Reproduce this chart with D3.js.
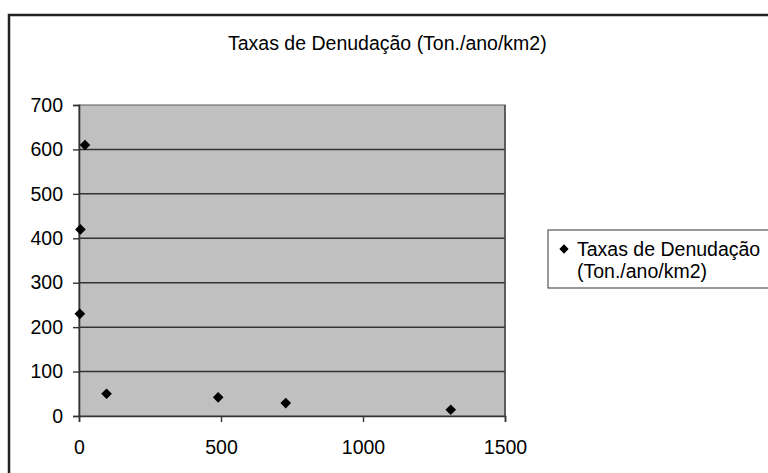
<!DOCTYPE html>
<html><head><meta charset="utf-8">
<script src="https://cdn.jsdelivr.net/npm/d3@7"></script>
<style>body{margin:0;background:#fff}svg{display:block}text{font-family:"Liberation Sans",Arial,sans-serif;fill:#000}</style>
</head><body><svg id="c" width="768" height="473"></svg>
<script>
const title = "Taxas de Denudação (Ton./ano/km2)";
const seriesName = ["Taxas de Denudação", "(Ton./ano/km2)"];
const xValues = [5, 21, 3, 97, 490, 728, 1309];
const yValues = [420, 610, 230, 50, 42, 29, 14];
const xTicks = [0, 500, 1000, 1500];
const yTicks = [0, 100, 200, 300, 400, 500, 600, 700];

const svg = d3.select("#c");
const L = 79, R = 505, T = 105, B = 416;
const x = d3.scaleLinear().domain([0, 1500]).range([L, R]);
const y = d3.scaleLinear().domain([0, 700]).range([B, T]);

// outer border (chart area, cropped on right/bottom)
svg.append("path").attr("d", "M9,480 L9,15 L780,15").attr("fill", "none").attr("stroke", "#222").attr("stroke-width", 2.5);

// title
svg.append("text").attr("x", 228).attr("y", 50).attr("font-size", 19.5).text(title);

// plot area
svg.append("rect").attr("x", L).attr("y", T).attr("width", R - L).attr("height", B - T).attr("fill", "#c0c0c0").attr("stroke", "#707070").attr("stroke-width", 1.2);

// gridlines
svg.append("g").selectAll("line").data(yTicks.filter(d => d > 0 && d < 700)).join("line")
  .attr("x1", L).attr("x2", R).attr("y1", d => y(d)).attr("y2", d => y(d))
  .attr("stroke", "#333").attr("stroke-width", 1.5);

// y axis
const ya = svg.append("g").attr("transform", `translate(${L},0)`)
  .call(d3.axisLeft(y).tickValues(yTicks).tickSize(6).tickPadding(10).tickFormat(d3.format("d")));
ya.select(".domain").attr("stroke", "#333").attr("stroke-width", 1.6);
ya.selectAll(".tick line").attr("stroke", "#333").attr("stroke-width", 1.4);
ya.selectAll("text").attr("font-size", 19.5).attr("font-family", "Liberation Sans, Arial, sans-serif").attr("fill", "#000");

// x axis
const xa = svg.append("g").attr("transform", `translate(0,${B})`)
  .call(d3.axisBottom(x).tickValues(xTicks).tickSize(6).tickPadding(18).tickFormat(d3.format("d")));
xa.select(".domain").attr("stroke", "#333").attr("stroke-width", 1.6);
xa.selectAll(".tick line").attr("stroke", "#333").attr("stroke-width", 1.4);
xa.selectAll("text").attr("font-size", 19.5).attr("font-family", "Liberation Sans, Arial, sans-serif").attr("fill", "#000");

// right border of plot
svg.append("line").attr("x1", R).attr("x2", R).attr("y1", T).attr("y2", B).attr("stroke", "#444").attr("stroke-width", 1.4);

// points
const diamond = d3.symbol().type(d3.symbolDiamond2).size(72);
const pts = xValues.map((v, i) => ({x: v, y: yValues[i]}));
svg.append("g").selectAll("path").data(pts).join("path")
  .attr("d", diamond).attr("transform", d => `translate(${x(d.x)},${y(d.y)})`).attr("fill", "#000");

// legend
svg.append("rect").attr("x", 548).attr("y", 230).attr("width", 240).attr("height", 58)
  .attr("fill", "#fff").attr("stroke", "#555").attr("stroke-width", 1.2);
svg.append("path").attr("d", d3.symbol().type(d3.symbolDiamond2).size(55)).attr("transform", "translate(564,249)").attr("fill", "#000");
svg.append("text").attr("x", 577).attr("y", 256).attr("font-size", 19.5).text(seriesName[0]);
svg.append("text").attr("x", 577).attr("y", 278).attr("font-size", 19.5).text(seriesName[1]);
</script></body></html>
